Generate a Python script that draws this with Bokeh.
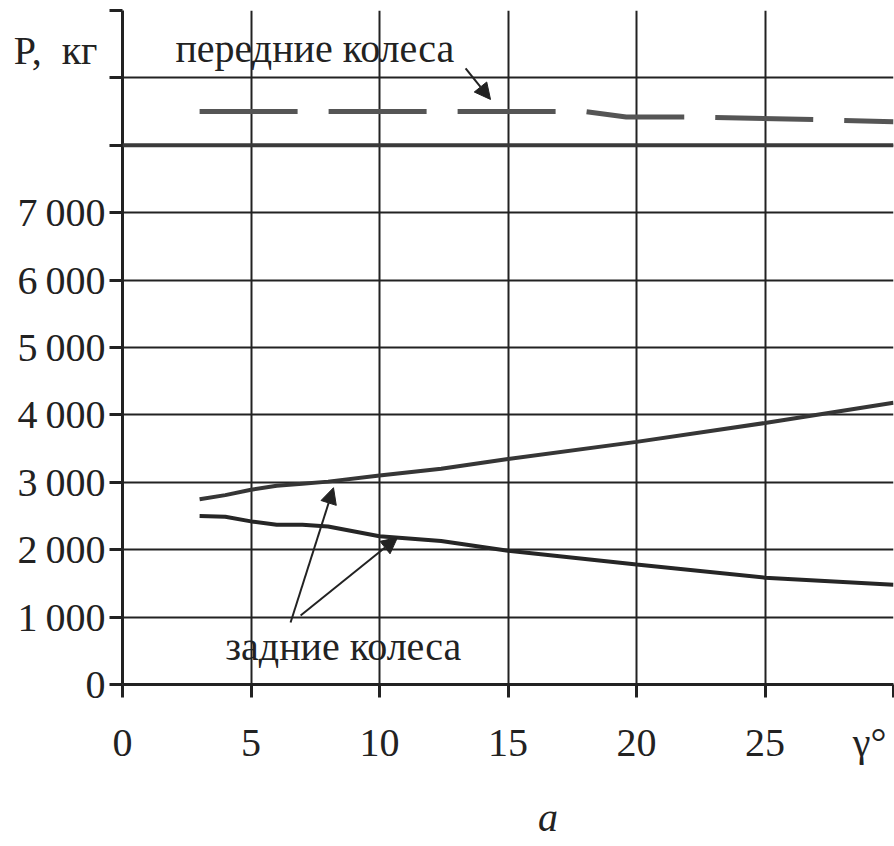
from bokeh.plotting import figure
from bokeh.models import Label, Arrow, NormalHead, FixedTicker, Span, Range1d, LinearAxis
from bokeh.embed import file_html
from bokeh.resources import INLINE

# ---- data ----
x_front = [3, 18, 19.6, 22, 27, 30]
p_front = [8500, 8500, 8420, 8420, 8380, 8350]

x_rear_up = [3, 4, 5, 6, 7, 8, 10, 12.4, 15, 20, 25, 30]
p_rear_up = [2750, 2810, 2890, 2950, 2980, 3010, 3100, 3200, 3345, 3600, 3880, 4180]

x_rear_low = [3, 4, 5, 6, 7, 8, 10, 12.4, 15, 20, 25, 30]
p_rear_low = [2500, 2490, 2420, 2370, 2370, 2345, 2200, 2130, 1985, 1780, 1585, 1480]

x_ticks = [0, 5, 10, 15, 20, 25, 30]
x_labels = ["0", "5", "10", "15", "20", "25", "γ°\u2009"]
y_ticks = [0, 1000, 2000, 3000, 4000, 5000, 6000, 7000, 8000, 9000, 10000]
y_label_ticks = [0, 1000, 2000, 3000, 4000, 5000, 6000, 7000, 9410]
y_labels = ["0", "1\u2009000", "2\u2009000", "3\u2009000", "4\u2009000", "5\u2009000",
            "6\u2009000", "7\u2009000", "P,\u2002кг\u2009"]

FONT = "Liberation Serif"
INK = "#222222"

p = figure(frame_width=771, frame_height=674, output_backend="svg", toolbar_location=None,
           x_range=Range1d(0, 30), y_range=Range1d(0, 10000),
           min_border_left=122, min_border_right=1, min_border_top=10, min_border_bottom=162)
p.outline_line_color = None
p.background_fill_color = "white"
p.border_fill_color = "white"

# grid
p.xgrid.ticker = FixedTicker(ticks=x_ticks)
p.ygrid.ticker = FixedTicker(ticks=y_ticks)
for g in (p.xgrid, p.ygrid):
    g.grid_line_color = INK
    g.grid_line_width = 2
    g.grid_line_alpha = 1.0
p.add_layout(Span(location=8000, dimension="width", line_color="#3a3a3a", line_width=4))

# axes: inner left axis carries only the tick marks, outer one only the labels
p.xaxis.ticker = FixedTicker(ticks=x_ticks)
p.xaxis.major_label_overrides = {t: l for t, l in zip(x_ticks, x_labels)}
yax = p.yaxis[0]
yax.ticker = FixedTicker(ticks=y_ticks)
yax.major_label_overrides = {t: "" for t in y_ticks}
yax.major_label_standoff = 0

for ax in (p.xaxis[0], yax):
    ax.axis_line_color = INK
    ax.axis_line_width = 3
    ax.major_tick_line_color = INK
    ax.major_tick_line_width = 3
    ax.major_tick_in = 0
    ax.major_tick_out = 13
    ax.minor_tick_line_color = None
    ax.major_label_text_font = FONT
    ax.major_label_text_font_size = "40px"
    ax.major_label_text_color = INK

ylab = LinearAxis(ticker=FixedTicker(ticks=y_label_ticks),
                  major_label_overrides={t: l for t, l in zip(y_label_ticks, y_labels)},
                  axis_line_color=None, major_tick_line_color=None, minor_tick_line_color=None,
                  major_tick_in=0, major_tick_out=0, major_label_standoff=4,
                  major_label_text_font=FONT, major_label_text_font_size="40px",
                  major_label_text_color=INK)
p.add_layout(ylab, "left")

p.xaxis.major_label_standoff = 22
p.xaxis.axis_label = "\u2003\u2003a"
p.xaxis.axis_label_text_font = FONT
p.xaxis.axis_label_text_font_style = "italic"
p.xaxis.axis_label_text_font_size = "40px"
p.xaxis.axis_label_text_color = INK
p.xaxis.axis_label_standoff = 27

# series
p.line(x_front, p_front, line_color="#555555", line_width=5, line_dash="98 31")
p.line(x_rear_up, p_rear_up, line_color="#363636", line_width=4)
p.line(x_rear_low, p_rear_low, line_color="#262626", line_width=4)

# texts inside the frame
def lab(x, y, t, size="40px"):
    p.add_layout(Label(x=x, y=y, text=t, text_font=FONT, text_font_size=size,
                       text_color=INK, text_align="left", text_baseline="alphabetic"))

lab(2.06, 9430, "передние колеса")
lab(4.0, 566, "задние колеса")

# arrows
def arr(x0, y0, x1, y1):
    p.add_layout(Arrow(x_start=x0, y_start=y0, x_end=x1, y_end=y1,
                       line_color=INK, line_width=2,
                       end=NormalHead(size=16, fill_color=INK, line_color=INK)))

arr(13.35, 9140, 14.32, 8680)
arr(6.54, 920, 8.21, 2920)
arr(6.93, 1024, 10.7, 2180)

open("out.html", "w").write(file_html(p, INLINE))
